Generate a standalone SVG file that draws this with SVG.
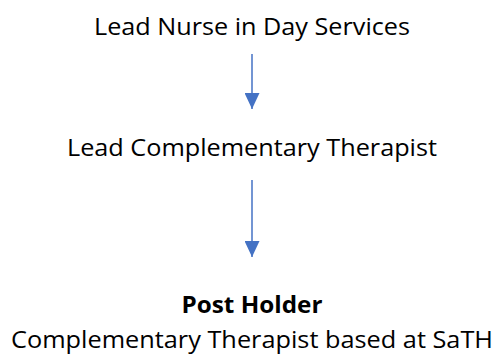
<svg xmlns="http://www.w3.org/2000/svg" width="495" height="356" viewBox="0 0 495 356">
<style>
text{font-family:"Open Sans","Liberation Sans",sans-serif;font-size:24px;fill:#000;text-anchor:middle}
.b{font-weight:bold}
.c{stroke:#4472C4;stroke-width:1.5;fill:none}
</style>
<defs>
<marker id="ah" viewBox="0 0 16 15" refX="16" refY="7.5" markerWidth="16" markerHeight="15" markerUnits="userSpaceOnUse" orient="auto">
<path d="M0,0 L16,7.5 L0,15 Z" fill="#4472C4"/>
</marker>
</defs>
<rect width="495" height="356" fill="#fff"/>
<g id="n1"><text x="252" y="35" textLength="316" lengthAdjust="spacingAndGlyphs">Lead Nurse in Day Services</text></g>
<g id="n2"><text x="252" y="156" textLength="370" lengthAdjust="spacingAndGlyphs">Lead Complementary Therapist</text></g>
<g id="n3"><text class="b" x="252" y="313" textLength="141" lengthAdjust="spacingAndGlyphs">Post Holder</text>
<text x="252" y="348" textLength="482" lengthAdjust="spacingAndGlyphs">Complementary Therapist based at SaTH</text></g>
<g id="connectors">
<line class="c" x1="252" y1="54" x2="252" y2="109" marker-end="url(#ah)"/>
<line class="c" x1="252" y1="180" x2="252" y2="257" marker-end="url(#ah)"/>
</g>
</svg>
